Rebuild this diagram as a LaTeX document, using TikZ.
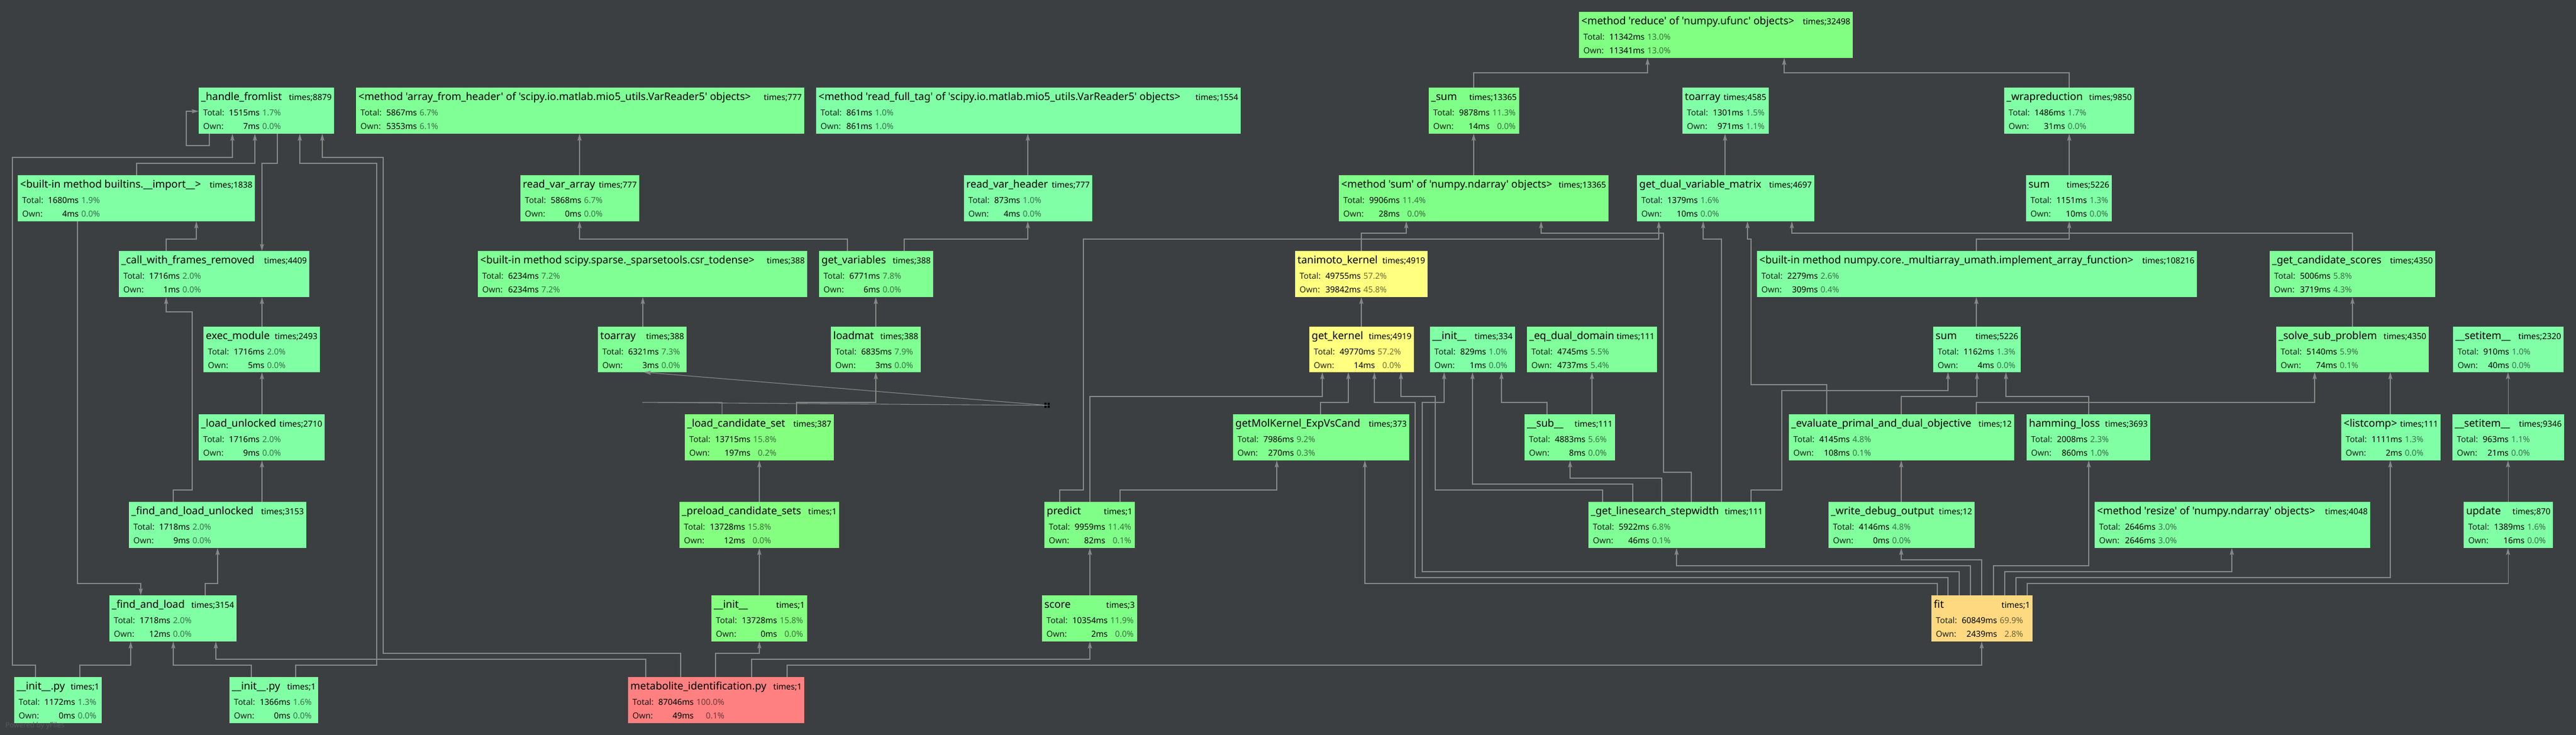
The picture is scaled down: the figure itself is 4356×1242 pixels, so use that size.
\documentclass[tikz,border=0pt]{standalone}
\usepackage{fontspec}
\setmainfont{Noto Sans}[Ligatures=TeXOff]
\usetikzlibrary{arrows.meta,fit}
\definecolor{bg}{HTML}{3C3F41}
\definecolor{edgec}{HTML}{878787}
\definecolor{wm}{HTML}{56595C}
\newcommand\namefont{\fontsize{17.6}{20}\selectfont\bfseries}
\newcommand\timesfont{\fontsize{14}{17}\selectfont}
\newcommand\bodyfont{\fontsize{14}{23}\selectfont}
\tikzset{
  edge/.style={draw=edgec, line width=1.1pt, -{Stealth[length=12pt,width=7pt,inset=2.5pt]}},
  box/.style={inner sep=0pt, outer sep=0pt, draw=none},
}
\newcommand\pbox[6]{%
  \pgfmathsetmacro\phue{140*(1-#6/100)}%
  \pgfmathsetmacro\pr{\phue>=120 ? 0.5 : (\phue>=60 ? 0.5+0.5*(120-\phue)/60 : 1)}%
  \pgfmathsetmacro\pg{\phue>=60 ? 1 : 0.5+0.5*\phue/60}%
  \pgfmathsetmacro\pb{\phue>=120 ? 0.5+0.5*(\phue-120)/60 : 0.5}%
  \edef\tmpc{\noexpand\definecolor{fill#1}{rgb}{\pr,\pg,\pb}}\tmpc
  \node[box, fit={(#2,#3) (#4,#5)}, fill=fill#1] (#1) {};%
  \gdef\bx{#2}\gdef\by{#3}\gdef\bxx{#4}\gdef\curfill{fill#1}%
}
\newcommand\ptext[7]{%
  \node[anchor=base west, inner sep=0pt, font=\namefont] (#1n) at ({\bx+4},{\by+21}) {#2};%
  \node[anchor=base east, inner sep=0pt, font=\timesfont] (#1t) at ({\bxx-4},{\by+21}) {#3};%
  \node[anchor=base west, inner sep=0pt, font=\bodyfont] (#1b) at ({\bx+7.5},{\by+47}) {%
    \begin{tabular}[t]{@{}l@{\hspace{8pt}}r@{\hspace{4.5pt}}r@{}}%
    \textcolor{black!85!\curfill}{Total:} & \textbf{#4} & \textcolor{black!55!\curfill}{#5}\\
    \textcolor{black!85!\curfill}{Own:} & \textbf{#6} & \textcolor{black!55!\curfill}{#7}%
    \end{tabular}};%
}
\begin{document}
\begin{tikzpicture}[x=1pt,y=-1pt]
\useasboundingbox (0,0) rectangle (4356,1242);
\fill[bg] (0,0) rectangle (4356,1242);

% ---------- boxes ----------
\pbox{reduce}{2670}{20}{3133}{98}{13.0}
\ptext{reduce}{<method 'reduce' of 'numpy.ufunc' objects>}{times;32498}{11342ms}{13.0\%}{11341ms}{13.0\%}
\pbox{hfl}{336}{148}{565}{226}{1.7}
\ptext{hfl}{\_handle\_fromlist}{times;8879}{1515ms}{1.7\%}{7ms}{0.0\%}
\pbox{afh}{602}{148}{1360}{226}{6.7}
\ptext{afh}{<method 'array\_from\_header' of 'scipy.io.matlab.mio5\_utils.VarReader5' objects>}{times;777}{5867ms}{6.7\%}{5353ms}{6.1\%}
\pbox{rft}{1380}{148}{2098}{226}{1.0}
\ptext{rft}{<method 'read\_full\_tag' of 'scipy.io.matlab.mio5\_utils.VarReader5' objects>}{times;1554}{861ms}{1.0\%}{861ms}{1.0\%}
\pbox{usum}{2416}{148}{2569}{226}{11.3}
\ptext{usum}{\_sum}{times;13365}{9878ms}{11.3\%}{14ms}{0.0\%}
\pbox{toarrayA}{2845}{148}{2991}{226}{1.5}
\ptext{toarrayA}{toarray}{times;4585}{1301ms}{1.5\%}{971ms}{1.1\%}
\pbox{wrap}{3389}{148}{3609}{226}{1.7}
\ptext{wrap}{\_wrapreduction}{times;9850}{1486ms}{1.7\%}{31ms}{0.0\%}

\pbox{imp}{30}{296}{431}{374}{1.9}
\ptext{imp}{<built-in method builtins.\_\_import\_\_>}{times;1838}{1680ms}{1.9\%}{4ms}{0.0\%}
\pbox{rva}{880}{296}{1081}{374}{6.7}
\ptext{rva}{read\_var\_array}{times;777}{5868ms}{6.7\%}{0ms}{0.0\%}
\pbox{rvh}{1630}{296}{1847}{374}{1.0}
\ptext{rvh}{read\_var\_header}{times;777}{873ms}{1.0\%}{4ms}{0.0\%}
\pbox{msum}{2264}{296}{2720}{374}{11.4}
\ptext{msum}{<method 'sum' of 'numpy.ndarray' objects>}{times;13365}{9906ms}{11.4\%}{28ms}{0.0\%}
\pbox{gdvm}{2768}{296}{3068}{374}{1.6}
\ptext{gdvm}{get\_dual\_variable\_matrix}{times;4697}{1379ms}{1.6\%}{10ms}{0.0\%}
\pbox{sumA}{3426}{296}{3571}{374}{1.3}
\ptext{sumA}{sum}{times;5226}{1151ms}{1.3\%}{10ms}{0.0\%}

\pbox{cwf}{201}{424}{523}{502}{2.0}
\ptext{cwf}{\_call\_with\_frames\_removed}{times;4409}{1716ms}{2.0\%}{1ms}{0.0\%}
\pbox{csr}{808}{424}{1365}{502}{7.2}
\ptext{csr}{<built-in method scipy.sparse.\_sparsetools.csr\_todense>}{times;388}{6234ms}{7.2\%}{6234ms}{7.2\%}
\pbox{gvar}{1385}{424}{1578}{502}{7.8}
\ptext{gvar}{get\_variables}{times;388}{6771ms}{7.8\%}{6ms}{0.0\%}
\pbox{tani}{2190}{424}{2414}{502}{57.2}
\ptext{tani}{tanimoto\_kernel}{times;4919}{49755ms}{57.2\%}{39842ms}{45.8\%}
\pbox{impl}{2971}{424}{3715}{502}{2.6}
\ptext{impl}{<built-in method numpy.core.\_multiarray\_umath.implement\_array\_function>}{times;108216}{2279ms}{2.6\%}{309ms}{0.4\%}
\pbox{gcs}{3838}{424}{4118}{502}{5.8}
\ptext{gcs}{\_get\_candidate\_scores}{times;4350}{5006ms}{5.8\%}{3719ms}{4.3\%}

\pbox{exec}{344}{552}{541}{629}{2.0}
\ptext{exec}{exec\_module}{times;2493}{1716ms}{2.0\%}{5ms}{0.0\%}
\pbox{toarrayB}{1011}{552}{1161}{629}{7.3}
\ptext{toarrayB}{toarray}{times;388}{6321ms}{7.3\%}{3ms}{0.0\%}
\pbox{loadmat}{1405}{552}{1557}{629}{7.9}
\ptext{loadmat}{loadmat}{times;388}{6835ms}{7.9\%}{3ms}{0.0\%}
\pbox{gk}{2214}{552}{2391}{629}{57.2}
\ptext{gk}{get\_kernel}{times;4919}{49770ms}{57.2\%}{14ms}{0.0\%}
\pbox{initA}{2418}{552}{2562}{629}{1.0}
\ptext{initA}{\_\_init\_\_}{times;334}{829ms}{1.0\%}{1ms}{0.0\%}
\pbox{eqd}{2582}{552}{2802}{629}{5.5}
\ptext{eqd}{\_eq\_dual\_domain}{times;111}{4745ms}{5.5\%}{4737ms}{5.4\%}
\pbox{sumB}{3269}{552}{3417}{629}{1.3}
\ptext{sumB}{sum}{times;5226}{1162ms}{1.3\%}{4ms}{0.0\%}
\pbox{ssp}{3849}{552}{4107}{629}{5.9}
\ptext{ssp}{\_solve\_sub\_problem}{times;4350}{5140ms}{5.9\%}{74ms}{0.1\%}
\pbox{setA}{4148}{552}{4335}{629}{1.0}
\ptext{setA}{\_\_setitem\_\_}{times;2320}{910ms}{1.0\%}{40ms}{0.0\%}

\pbox{lu}{336}{700}{549}{778}{2.0}
\ptext{lu}{\_load\_unlocked}{times;2710}{1716ms}{2.0\%}{9ms}{0.0\%}
\pbox{lcs}{1158}{700}{1410}{778}{15.8}
\ptext{lcs}{\_load\_candidate\_set}{times;387}{13715ms}{15.8\%}{197ms}{0.2\%}
\pbox{gmk}{2085}{700}{2383}{778}{9.2}
\ptext{gmk}{getMolKernel\_ExpVsCand}{times;373}{7986ms}{9.2\%}{270ms}{0.3\%}
\pbox{sub}{2578}{700}{2731}{778}{5.6}
\ptext{sub}{\_\_sub\_\_}{times;111}{4883ms}{5.6\%}{8ms}{0.0\%}
\pbox{evalp}{3025}{700}{3406}{778}{4.8}
\ptext{evalp}{\_evaluate\_primal\_and\_dual\_objective}{times;12}{4145ms}{4.8\%}{108ms}{0.1\%}
\pbox{ham}{3427}{700}{3636}{778}{2.3}
\ptext{ham}{hamming\_loss}{times;3693}{2008ms}{2.3\%}{860ms}{1.0\%}
\pbox{lc}{3959}{700}{4127}{778}{1.3}
\ptext{lc}{<listcomp>}{times;111}{1111ms}{1.3\%}{2ms}{0.0\%}
\pbox{setB}{4147}{700}{4336}{778}{1.1}
\ptext{setB}{\_\_setitem\_\_}{times;9346}{963ms}{1.1\%}{21ms}{0.0\%}

\pbox{flu}{218}{848}{518}{926}{2.0}
\ptext{flu}{\_find\_and\_load\_unlocked}{times;3153}{1718ms}{2.0\%}{9ms}{0.0\%}
\pbox{pcs}{1149}{848}{1419}{926}{15.8}
\ptext{pcs}{\_preload\_candidate\_sets}{times;1}{13728ms}{15.8\%}{12ms}{0.0\%}
\pbox{pred}{1766}{848}{1919}{926}{11.4}
\ptext{pred}{predict}{times;1}{9959ms}{11.4\%}{82ms}{0.1\%}
\pbox{gls}{2686}{848}{2985}{926}{6.8}
\ptext{gls}{\_get\_linesearch\_stepwidth}{times;111}{5922ms}{6.8\%}{46ms}{0.1\%}
\pbox{wdo}{3092}{848}{3339}{926}{4.8}
\ptext{wdo}{\_write\_debug\_output}{times;12}{4146ms}{4.8\%}{0ms}{0.0\%}
\pbox{resz}{3542}{848}{4008}{926}{3.0}
\ptext{resz}{<method 'resize' of 'numpy.ndarray' objects>}{times;4048}{2646ms}{3.0\%}{2646ms}{3.0\%}
\pbox{upd}{4166}{848}{4317}{926}{1.6}
\ptext{upd}{update}{times;870}{1389ms}{1.6\%}{16ms}{0.0\%}

\pbox{fal}{185}{1006}{400}{1084}{2.0}
\ptext{fal}{\_find\_and\_load}{times;3154}{1718ms}{2.0\%}{12ms}{0.0\%}
\pbox{initB}{1203}{1006}{1365}{1084}{15.8}
\ptext{initB}{\_\_init\_\_}{times;1}{13728ms}{15.8\%}{0ms}{0.0\%}
\pbox{score}{1762}{1006}{1923}{1084}{11.9}
\ptext{score}{score}{times;3}{10354ms}{11.9\%}{2ms}{0.0\%}
\pbox{fit}{3266}{1006}{3437}{1084}{69.9}
\ptext{fit}{fit}{times;1}{60849ms}{69.9\%}{2439ms}{2.8\%}

\pbox{ipyA}{24}{1144}{172}{1222}{1.3}
\ptext{ipyA}{\_\_init\_\_.py}{times;1}{1172ms}{1.3\%}{0ms}{0.0\%}
\pbox{ipyB}{388}{1144}{538}{1222}{1.6}
\ptext{ipyB}{\_\_init\_\_.py}{times;1}{1366ms}{1.6\%}{0ms}{0.0\%}
\pbox{metab}{1062}{1144}{1360}{1222}{100}
\ptext{metab}{metabolite\_identification.py}{times;1}{87046ms}{100.0\%}{49ms}{0.1\%}

\node[anchor=west, inner sep=0pt, text=wm, font=\fontsize{12}{14}\selectfont] (pw) at (9,1226) {Powered by yFiles};

% ---------- edges ----------
% left cluster
\draw[edge] (354,0 |- hfl.south) -- (354,246) -- (315,246) -- (315,188) -- (hfl.west |- 0,188);
\draw[edge] (60,0 |- ipyA.north) -- (60,1124) -- (21,1124) -- (21,266) -- (393,266) -- (393,0 |- hfl.south);
\draw[edge] (231,0 |- imp.north) -- (231,276) -- (431,276) -- (431,0 |- hfl.south);
\draw[edge] (500,0 |- ipyB.north) -- (500,1124) -- (637,1124) -- (637,276) -- (507,276) -- (507,0 |- hfl.south);
\draw[edge] (1151,0 |- metab.north) -- (1151,1104) -- (648,1104) -- (648,266) -- (545,266) -- (545,0 |- hfl.south);
\draw[edge] (469,0 |- hfl.south) -- (469,276) -- (443,276) -- (443,0 |- cwf.north);
\draw[edge] (281,0 |- cwf.north) -- (281,404) -- (332,404) -- (332,0 |- imp.south);
\draw[edge] (443,0 |- exec.north) -- (443,0 |- cwf.south);
\draw[edge] (293,0 |- flu.north) -- (293,828) -- (325,828) -- (325,527) -- (281,527) -- (281,0 |- cwf.south);
\draw[edge] (443,0 |- lu.north) -- (443,0 |- exec.south);
\draw[edge] (443,0 |- flu.north) -- (443,0 |- lu.south);
\draw[edge] (347,0 |- fal.north) -- (347,986) -- (368,986) -- (368,0 |- flu.south);
\draw[edge] (131,0 |- imp.south) -- (131,986) -- (238,986) -- (238,0 |- fal.north);
\draw[edge] (135,0 |- ipyA.north) -- (135,1124) -- (221,1124) -- (221,0 |- fal.south);
\draw[edge] (425,0 |- ipyB.north) -- (425,1124) -- (293,1124) -- (293,0 |- fal.south);
\draw[edge] (1092,0 |- metab.north) -- (1092,1114) -- (365,1114) -- (365,0 |- fal.south);
% metabolite
\draw[edge] (1210,0 |- metab.north) -- (1210,1104) -- (1284,1104) -- (1284,0 |- initB.south);
\draw[edge] (1271,0 |- metab.north) -- (1271,1114) -- (1843,1114) -- (1843,0 |- score.south);
\draw[edge] (1331,0 |- metab.north) -- (1331,1124) -- (3351,1124) -- (3351,0 |- fit.south);
% loading chain
\draw[edge] (1284,0 |- initB.north) -- (1284,0 |- pcs.south);
\draw[edge] (1284,0 |- pcs.north) -- (1284,0 |- lcs.south);
\draw[edge] (1347,0 |- lcs.north) -- (1347,680) -- (1481,680) -- (1481,0 |- loadmat.south);
\coordinate (mk) at (1771,685);
\draw[edge] (1221,0 |- lcs.north) -- (1221,680) -- (1086,680) -- (mk) -- (1089,0 |- toarrayB.south);
\fill[black] (1766,680.5) rectangle (1769.5,684) (1766,685.5) rectangle (1769.5,689)
             (1771.5,680.5) rectangle (1775,684) (1771.5,685.5) rectangle (1775,689);
\draw[edge] (1481,0 |- loadmat.north) -- (1481,0 |- gvar.south);
\draw[edge] (1433,0 |- gvar.north) -- (1433,404) -- (980,404) -- (980,0 |- rva.south);
\draw[edge] (1529,0 |- gvar.north) -- (1529,404) -- (1738,404) -- (1738,0 |- rvh.south);
\draw[edge] (980,0 |- rva.north) -- (980,0 |- afh.south);
\draw[edge] (1738,0 |- rvh.north) -- (1738,0 |- rft.south);
\draw[edge] (1087,0 |- toarrayB.north) -- (1087,0 |- csr.south);
% predict
\draw[edge] (1843,0 |- score.north) -- (1843,0 |- pred.south);
\draw[edge] (1792,0 |- pred.north) -- (1792,828) -- (1832,828) -- (1832,404) -- (2805,404) -- (2805,0 |- gdvm.south);
\draw[edge] (1843,0 |- pred.north) -- (1843,670) -- (2236,670) -- (2236,0 |- gk.south);
\draw[edge] (1894,0 |- pred.north) -- (1894,828) -- (2159,828) -- (2159,0 |- gmk.south);
\draw[edge] (2233,0 |- gmk.north) -- (2233,680) -- (2280,680) -- (2280,0 |- gk.south);
% kernel / linesearch
\draw[edge] (3294,0 |- fit.north) -- (3294,976) -- (2393,976) -- (2393,680) -- (2324,680) -- (2324,0 |- gk.south);
\draw[edge] (2710,0 |- gls.north) -- (2710,828) -- (2427,828) -- (2427,670) -- (2369,670) -- (2369,0 |- gk.south);
\draw[edge] (3313,0 |- fit.north) -- (3313,966) -- (2405,966) -- (2405,680) -- (2442,680) -- (2442,0 |- initA.south);
\draw[edge] (2761,0 |- gls.north) -- (2761,818) -- (2490,818) -- (2490,0 |- initA.south);
\draw[edge] (2616,0 |- sub.north) -- (2616,680) -- (2539,680) -- (2539,0 |- initA.south);
\draw[edge] (2692,0 |- sub.north) -- (2692,0 |- eqd.south);
\draw[edge] (2810,0 |- gls.north) -- (2810,808) -- (2655,808) -- (2655,0 |- sub.south);
\draw[edge] (3276,0 |- fit.north) -- (3276,986) -- (2308,986) -- (2308,0 |- gmk.south);
\draw[edge] (2302,0 |- gk.north) -- (2302,0 |- tani.south);
\draw[edge] (2302,0 |- tani.north) -- (2302,394) -- (2378,394) -- (2378,0 |- msum.south);
\draw[edge] (2860,0 |- gls.north) -- (2860,798) -- (2813,798) -- (2813,394) -- (2606,394) -- (2606,0 |- msum.south);
\draw[edge] (2492,0 |- msum.north) -- (2492,0 |- usum.south);
\draw[edge] (2492,0 |- usum.north) -- (2492,123) -- (2786,123) -- (2786,0 |- reduce.south);
\draw[edge] (3499,0 |- wrap.north) -- (3499,123) -- (3017,123) -- (3017,0 |- reduce.south);
\draw[edge] (3499,0 |- sumA.north) -- (3499,0 |- wrap.south);
\draw[edge] (3342,0 |- impl.north) -- (3342,404) -- (3499,404) -- (3499,0 |- sumA.south);
\draw[edge] (3342,0 |- sumB.north) -- (3342,0 |- impl.south);
\draw[edge] (2917,0 |- gdvm.north) -- (2917,0 |- toarrayA.south);
\draw[edge] (2911,0 |- gls.north) -- (2911,404) -- (2880,404) -- (2880,0 |- gdvm.south);
\draw[edge] (3089,0 |- evalp.north) -- (3089,650) -- (2961,650) -- (2961,404) -- (2955,404) -- (2955,0 |- gdvm.south);
\draw[edge] (3978,0 |- gcs.north) -- (3978,394) -- (3030,394) -- (3030,0 |- gdvm.south);
\draw[edge] (2961,0 |- gls.north) -- (2961,828) -- (3013,828) -- (3013,660) -- (3294,660) -- (3294,0 |- sumB.south);
\draw[edge] (3215,0 |- evalp.north) -- (3215,670) -- (3343,670) -- (3343,0 |- sumB.south);
\draw[edge] (3532,0 |- ham.north) -- (3532,670) -- (3392,670) -- (3392,0 |- sumB.south);
\draw[edge] (3342,0 |- evalp.north) -- (3342,680) -- (3914,680) -- (3914,0 |- ssp.south);
\draw[edge] (3215,0 |- wdo.north) -- (3215,0 |- evalp.south);
% fit
\draw[edge] (3351,0 |- fit.north) -- (3351,946) -- (3215,946) -- (3215,0 |- wdo.south);
\draw[edge] (3371,0 |- fit.north) -- (3371,956) -- (3532,956) -- (3532,0 |- ham.south);
\draw[edge] (3332,0 |- fit.north) -- (3332,956) -- (2835,956) -- (2835,0 |- gls.south);
\draw[edge] (3390,0 |- fit.north) -- (3390,966) -- (3774,966) -- (3774,0 |- resz.south);
\draw[edge] (3409,0 |- fit.north) -- (3409,976) -- (4042,976) -- (4042,0 |- lc.south);
\draw[edge] (3428,0 |- fit.north) -- (3428,986) -- (4241,986) -- (4241,0 |- upd.south);
% right cluster
\draw[edge] (3978,0 |- ssp.north) -- (3978,0 |- gcs.south);
\draw[edge] (4042,0 |- lc.north) -- (4042,0 |- ssp.south);
\draw[edge] (4241,0 |- upd.north) -- (4241,0 |- setB.south);
\draw[edge] (4241,0 |- setB.north) -- (4241,0 |- setA.south);
\end{tikzpicture}
\end{document}
